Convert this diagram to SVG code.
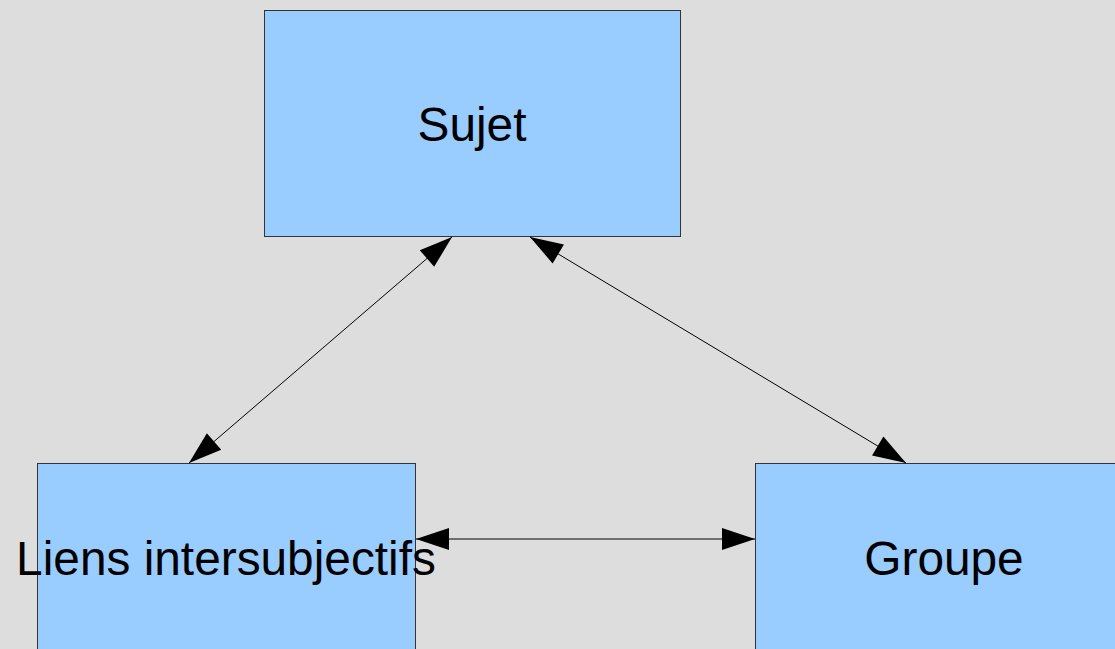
<svg xmlns="http://www.w3.org/2000/svg" width="1115" height="649" viewBox="0 0 1115 649">
<style>
.box{fill:#99ccff;stroke:#333333;stroke-width:1}
.lbl{font-family:"Liberation Sans",Arial,sans-serif;font-size:47.8px;fill:#000000;text-anchor:middle}
.conn{stroke:#000000;stroke-width:1;fill:none;marker-start:url(#ah);marker-end:url(#ah)}
</style>
<defs>
<marker id="ah" markerUnits="userSpaceOnUse" viewBox="-34 -12 36 24" refX="0" refY="0" markerWidth="36" markerHeight="24" orient="auto-start-reverse">
<path d="M0,0 L-33,-11 L-33,11 Z" fill="#000000"/>
</marker>
</defs>
<rect x="0" y="0" width="1115" height="649" fill="#dddddd"/>
<g id="sujet">
<rect class="box" x="264.5" y="10.5" width="416" height="226"/>
<text class="lbl" x="472" y="140.5">Sujet</text>
</g>
<g id="liens">
<rect class="box" x="37.5" y="463.5" width="378" height="200"/>
<text class="lbl" x="226" y="574.5">Liens intersubjectifs</text>
</g>
<g id="groupe">
<rect class="box" x="755.5" y="463.5" width="380" height="200"/>
<text class="lbl" x="944" y="574.5">Groupe</text>
</g>
<g id="connectors">
<line class="conn" x1="452" y1="237" x2="189" y2="463"/>
<line class="conn" x1="530" y1="237" x2="906" y2="463"/>
<line class="conn" x1="416" y1="539" x2="755" y2="539"/>
</g>
</svg>
